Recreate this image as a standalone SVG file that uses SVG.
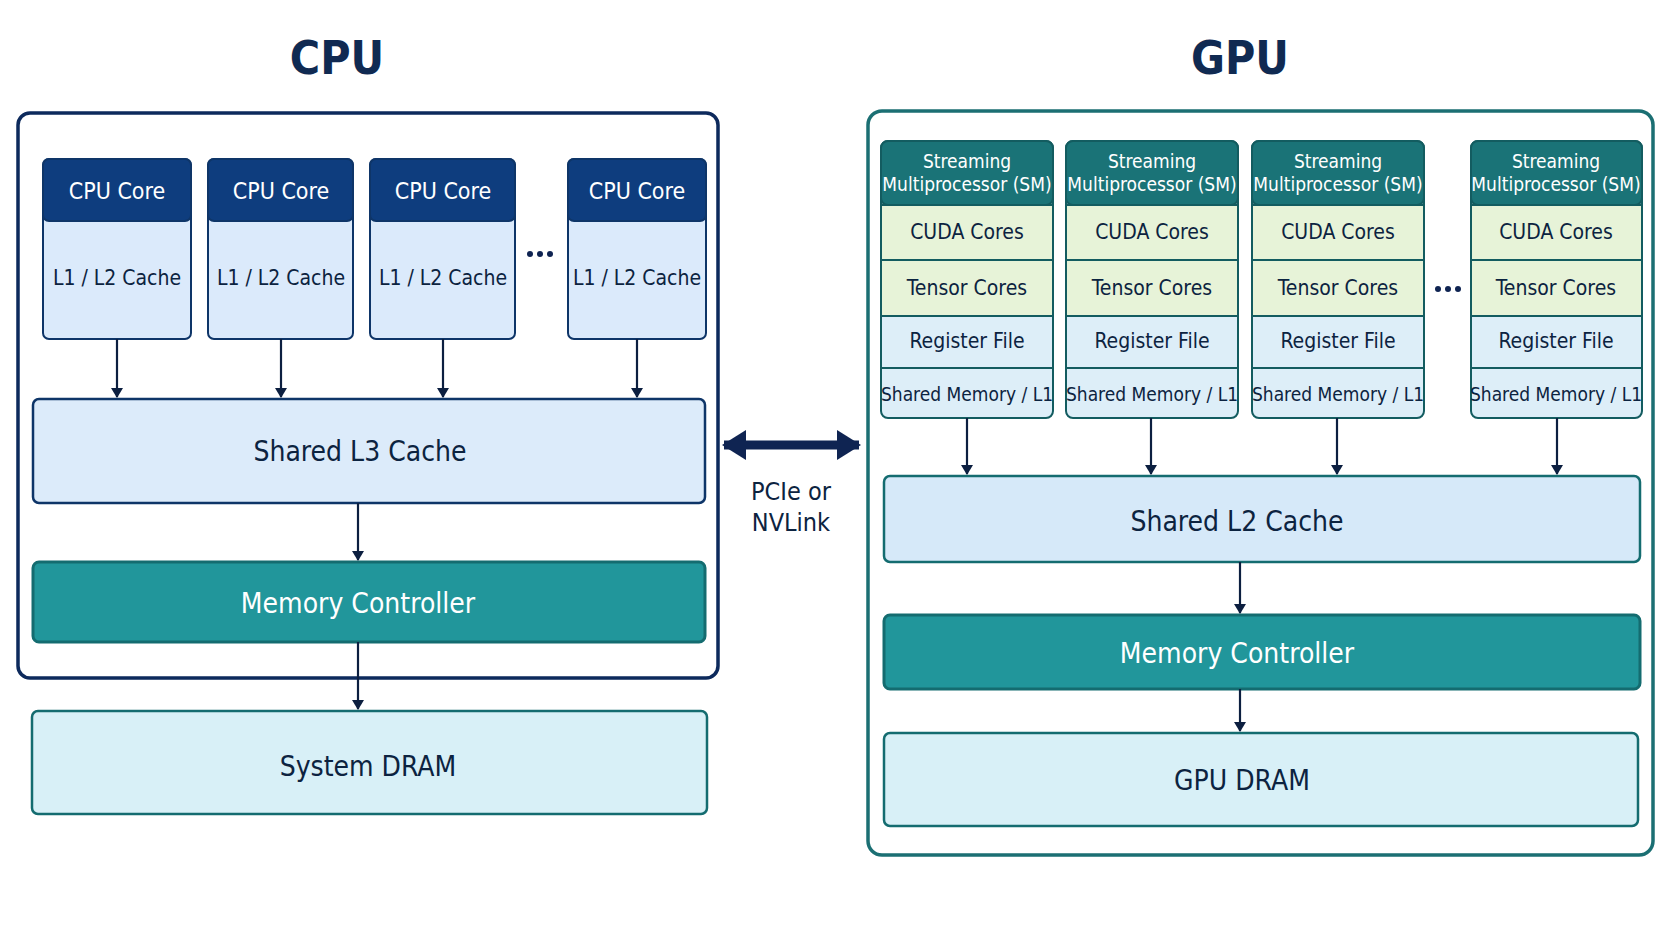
<svg xmlns="http://www.w3.org/2000/svg" width="1672" height="941" viewBox="0 0 1672 941">
<style>
text{font-family:"DejaVu Sans Condensed","DejaVu Sans","Liberation Sans",sans-serif;font-stretch:condensed;text-anchor:middle;dominant-baseline:central;fill:#0c2340}
.title{font-size:46px;font-weight:bold;fill:#102a52}
.hdr{fill:#0e3d7e;stroke:#0e3568;stroke-width:2}
.cache{fill:#dbeafb;stroke:#0e3568;stroke-width:2}
.ht{fill:#fff;font-size:23px}
.ct{font-size:21px}
.big{font-size:28px}
.teal{fill:#21969b;stroke:#146c70;stroke-width:3}
.smh{fill:#1a7377;stroke:#135c60;stroke-width:2}
.cuda{fill:#e7f3d8;stroke:#135c60;stroke-width:2}
.reg{fill:#ddeef8;stroke:#135c60;stroke-width:2}
.st{font-size:19px}
.wt{fill:#fff}
.ln{stroke:#0c1f40;stroke-width:2.2;fill:none}
</style>
<defs>
<marker id="ah" markerWidth="10" markerHeight="12" refX="9" refY="6" orient="auto" markerUnits="userSpaceOnUse"><path d="M0,0 L10,6 L0,12 z" fill="#0c1f40"/></marker>
<marker id="big" markerWidth="24" markerHeight="30" refX="22" refY="15" orient="auto-start-reverse" markerUnits="userSpaceOnUse"><path d="M0,0 L24,15 L0,30 z" fill="#0f2452"/></marker>
</defs>
<rect width="1672" height="941" fill="#fff"/>
<text class="title" x="337" y="58">CPU</text>
<text class="title" x="1240" y="58">GPU</text>
<g id="cpu"><rect x="18" y="113" width="700" height="565" rx="12" fill="#fff" stroke="#0d2a5c" stroke-width="3.5"/></g>
<g id="gpu"><rect x="868" y="111" width="785" height="744" rx="14" fill="#fff" stroke="#1b6f73" stroke-width="3.5"/></g>
<g id="core1"><rect class="cache" x="43" y="159" width="148" height="180" rx="6"/><rect class="hdr" x="43" y="159" width="148" height="62" rx="6"/><text class="ht" x="117" y="191">CPU Core</text><text class="ct" x="117" y="278">L1 / L2 Cache</text></g>
<g id="core2"><rect class="cache" x="208" y="159" width="145" height="180" rx="6"/><rect class="hdr" x="208" y="159" width="145" height="62" rx="6"/><text class="ht" x="281" y="191">CPU Core</text><text class="ct" x="281" y="278">L1 / L2 Cache</text></g>
<g id="core3"><rect class="cache" x="370" y="159" width="145" height="180" rx="6"/><rect class="hdr" x="370" y="159" width="145" height="62" rx="6"/><text class="ht" x="443" y="191">CPU Core</text><text class="ct" x="443" y="278">L1 / L2 Cache</text></g>
<g id="core4"><rect class="cache" x="568" y="159" width="138" height="180" rx="6"/><rect class="hdr" x="568" y="159" width="138" height="62" rx="6"/><text class="ht" x="637" y="191">CPU Core</text><text class="ct" x="637" y="278">L1 / L2 Cache</text></g>
<g id="cpu-dots" fill="#0f2452"><circle cx="530" cy="254" r="3"/><circle cx="540" cy="254" r="3"/><circle cx="550" cy="254" r="3"/></g>
<g id="l3"><rect x="33" y="399" width="672" height="104" rx="6" fill="#dcebfa" stroke="#0e3568" stroke-width="2.5"/><text class="big" x="360" y="451">Shared L3 Cache</text></g>
<g id="cpumc"><rect class="teal" x="33" y="562" width="672" height="80" rx="6"/><text class="big wt" x="358" y="603">Memory Controller</text></g>
<g id="sysdram"><rect x="32" y="711" width="675" height="103" rx="6" fill="#d8f0f7" stroke="#146c70" stroke-width="2.5"/><text class="big" x="368" y="766">System DRAM</text></g>
<g id="sm1"><rect class="reg" x="881" y="141" width="172" height="277" rx="7"/><rect class="smh" x="881" y="141" width="172" height="64" rx="7"/><text class="st wt" x="967" y="161">Streaming</text><text class="st wt" x="967" y="184">Multiprocessor (SM)</text><rect class="cuda" x="881" y="205" width="172" height="55"/><text class="ct" x="967" y="232">CUDA Cores</text><rect class="cuda" x="881" y="260" width="172" height="56"/><text class="ct" x="967" y="288">Tensor Cores</text><line x1="881" y1="368" x2="1053" y2="368" stroke="#135c60" stroke-width="2"/><text class="ct" x="967" y="341">Register File</text><text class="st" x="967" y="394">Shared Memory / L1</text></g>
<g id="sm2"><rect class="reg" x="1066" y="141" width="172" height="277" rx="7"/><rect class="smh" x="1066" y="141" width="172" height="64" rx="7"/><text class="st wt" x="1152" y="161">Streaming</text><text class="st wt" x="1152" y="184">Multiprocessor (SM)</text><rect class="cuda" x="1066" y="205" width="172" height="55"/><text class="ct" x="1152" y="232">CUDA Cores</text><rect class="cuda" x="1066" y="260" width="172" height="56"/><text class="ct" x="1152" y="288">Tensor Cores</text><line x1="1066" y1="368" x2="1238" y2="368" stroke="#135c60" stroke-width="2"/><text class="ct" x="1152" y="341">Register File</text><text class="st" x="1152" y="394">Shared Memory / L1</text></g>
<g id="sm3"><rect class="reg" x="1252" y="141" width="172" height="277" rx="7"/><rect class="smh" x="1252" y="141" width="172" height="64" rx="7"/><text class="st wt" x="1338" y="161">Streaming</text><text class="st wt" x="1338" y="184">Multiprocessor (SM)</text><rect class="cuda" x="1252" y="205" width="172" height="55"/><text class="ct" x="1338" y="232">CUDA Cores</text><rect class="cuda" x="1252" y="260" width="172" height="56"/><text class="ct" x="1338" y="288">Tensor Cores</text><line x1="1252" y1="368" x2="1424" y2="368" stroke="#135c60" stroke-width="2"/><text class="ct" x="1338" y="341">Register File</text><text class="st" x="1338" y="394">Shared Memory / L1</text></g>
<g id="sm4"><rect class="reg" x="1471" y="141" width="171" height="277" rx="7"/><rect class="smh" x="1471" y="141" width="171" height="64" rx="7"/><text class="st wt" x="1556" y="161">Streaming</text><text class="st wt" x="1556" y="184">Multiprocessor (SM)</text><rect class="cuda" x="1471" y="205" width="171" height="55"/><text class="ct" x="1556" y="232">CUDA Cores</text><rect class="cuda" x="1471" y="260" width="171" height="56"/><text class="ct" x="1556" y="288">Tensor Cores</text><line x1="1471" y1="368" x2="1642" y2="368" stroke="#135c60" stroke-width="2"/><text class="ct" x="1556" y="341">Register File</text><text class="st" x="1556" y="394">Shared Memory / L1</text></g>
<g id="gpu-dots" fill="#0f2452"><circle cx="1438" cy="289" r="3"/><circle cx="1448" cy="289" r="3"/><circle cx="1458" cy="289" r="3"/></g>
<g id="l2"><rect x="884" y="476" width="756" height="86" rx="6" fill="#d6e9f9" stroke="#146c70" stroke-width="2.5"/><text class="big" x="1237" y="521">Shared L2 Cache</text></g>
<g id="gpumc"><rect class="teal" x="884" y="615" width="756" height="74" rx="6"/><text class="big wt" x="1237" y="653">Memory Controller</text></g>
<g id="gpudram"><rect x="884" y="733" width="754" height="93" rx="6" fill="#d8f0f7" stroke="#146c70" stroke-width="2.5"/><text class="big" x="1242" y="780">GPU DRAM</text></g>
<g id="link"><text class="ct" x="791" y="491" style="font-size:25px">PCIe or</text><text class="ct" x="791" y="522" style="font-size:25px">NVLink</text></g>
<g id="connectors">
<line class="ln" x1="117" y1="339" x2="117" y2="397" marker-end="url(#ah)"/>
<line class="ln" x1="281" y1="339" x2="281" y2="397" marker-end="url(#ah)"/>
<line class="ln" x1="443" y1="339" x2="443" y2="397" marker-end="url(#ah)"/>
<line class="ln" x1="637" y1="339" x2="637" y2="397" marker-end="url(#ah)"/>
<line class="ln" x1="358" y1="503" x2="358" y2="560" marker-end="url(#ah)"/>
<line class="ln" x1="358" y1="642" x2="358" y2="709" marker-end="url(#ah)"/>
<line class="ln" x1="967" y1="418" x2="967" y2="474" marker-end="url(#ah)"/>
<line class="ln" x1="1151" y1="418" x2="1151" y2="474" marker-end="url(#ah)"/>
<line class="ln" x1="1337" y1="418" x2="1337" y2="474" marker-end="url(#ah)"/>
<line class="ln" x1="1557" y1="418" x2="1557" y2="474" marker-end="url(#ah)"/>
<line class="ln" x1="1240" y1="562" x2="1240" y2="613" marker-end="url(#ah)"/>
<line class="ln" x1="1240" y1="689" x2="1240" y2="731" marker-end="url(#ah)"/>
<line x1="724" y1="445" x2="859" y2="445" stroke="#0f2452" stroke-width="9" marker-start="url(#big)" marker-end="url(#big)"/>
</g>
</svg>
